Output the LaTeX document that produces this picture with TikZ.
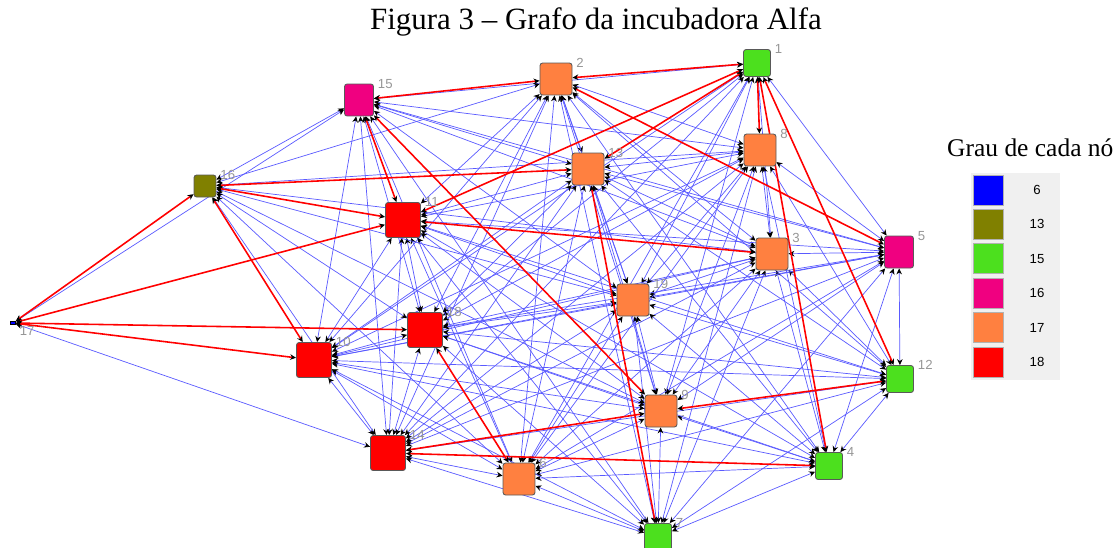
\documentclass[tikz,border=0pt]{standalone}
\usepackage{fontspec}
\setmainfont{Liberation Serif}
\setsansfont{Liberation Sans}
\usepackage{tikz}
\usetikzlibrary{arrows.meta,backgrounds}

\definecolor{gBlue}{RGB}{0,0,255}
\definecolor{gOlive}{RGB}{128,128,0}
\definecolor{gGreen}{RGB}{76,224,30}
\definecolor{gPink}{RGB}{240,0,128}
\definecolor{gOrange}{RGB}{255,128,64}
\definecolor{gRed}{RGB}{255,0,0}
\definecolor{edgeblue}{RGB}{90,90,255}
\definecolor{lblgray}{RGB}{150,150,150}
\definecolor{legendbg}{RGB}{240,240,240}

\begin{document}
\begin{tikzpicture}[x=0.02cm, y=-0.02cm, >={Stealth[length=3.4pt,width=3.2pt,black]},
  vertex/.style={draw=black!65, rounded corners=1.5pt, inner sep=0pt, line width=0.5pt},
  vsmall/.style={minimum size=0.54cm},
  vmid/.style={minimum size=0.64cm},
  vbig/.style={minimum size=0.70cm},
  numlbl/.style={anchor=west, xshift=1.5pt, inner sep=0.6pt, text=lblgray, font=\sffamily\fontsize{7.5}{8}\selectfont},
  lbl/.style={label={[numlbl]north east:#1}},
  blueedge/.style={<->, draw=edgeblue, line width=0.4pt},
  rededge/.style={<->, draw=gRed, line width=0.9pt},
  legsq/.style={draw=black!30, inner sep=0pt, minimum size=0.6cm},
  legtxt/.style={font=\sffamily\fontsize{7.5}{9}\selectfont}]

\useasboundingbox (0,0) rectangle (1117,548);

% title
\node[font=\fontsize{17.6}{20}\selectfont] (title) at (596,22) {Figura 3 – Grafo da incubadora Alfa};

% vertices
\node[vertex, vsmall, fill=gGreen, lbl=1] (n1) at (757,63) {};
\node[vertex, vmid, fill=gOrange, lbl=2] (n2) at (556,79) {};
\node[vertex, vmid, fill=gOrange, lbl=3] (n3) at (772,254) {};
\node[vertex, vsmall, fill=gGreen, lbl=4] (n4) at (829,466) {};
\node[vertex, vmid, minimum width=0.58cm, fill=gPink, lbl=5] (n5) at (899,252) {};
\node[vertex, vmid, fill=gOrange, lbl=6] (n6) at (519,479) {};
\node[vertex, vsmall, fill=gGreen, lbl=7] (n7) at (658,537) {};
\node[vertex, vmid, fill=gOrange, lbl=8] (n8) at (760,150) {};
\node[vertex, vmid, fill=gOrange, lbl=9] (n9) at (661,411) {};
\node[vertex, vbig, fill=gRed, lbl=10] (n10) at (314,360) {};
\node[vertex, vbig, fill=gRed, lbl=11] (n11) at (403,220) {};
\node[vertex, vsmall, fill=gGreen, lbl=12] (n12) at (900,379) {};
\node[vertex, vmid, fill=gOrange, lbl=13] (n13) at (588,169) {};
\node[vertex, vbig, fill=gRed, lbl=14] (n14) at (388,453) {};
\node[vertex, vmid, minimum width=0.58cm, fill=gPink, lbl=15] (n15) at (359,100) {};
\node[vertex, minimum size=0.44cm, fill=gOlive, lbl=16] (n16) at (205,186) {};
\node[draw=black, fill=gBlue, inner sep=0pt, minimum width=0.1cm, minimum height=0.07cm,
      label={[numlbl, anchor=north west, xshift=0pt]south east:17}] (n17) at (13,323) {};
\node[vertex, vbig, fill=gRed, lbl=18] (n18) at (425,330) {};
\node[vertex, vmid, fill=gOrange, lbl=19] (n19) at (633,300) {};

% connectors
\begin{scope}[on background layer]
\foreach \a/\b in {1/3,1/5,1/6,1/9,1/10,1/14,1/15,1/18,1/19,
  2/3,2/4,2/6,2/7,2/8,2/9,2/10,2/11,2/12,2/13,2/14,2/16,2/18,2/19,
  3/4,3/5,3/6,3/7,3/8,3/9,3/10,3/12,3/13,3/14,3/15,3/16,3/18,3/19,
  4/5,4/6,4/7,4/8,4/9,4/10,4/11,4/12,4/13,4/18,4/19,
  5/6,5/7,5/8,5/9,5/10,5/11,5/12,5/13,5/14,5/15,5/18,5/19,
  6/7,6/8,6/9,6/10,6/11,6/12,6/13,6/14,6/15,6/16,6/19,
  7/8,7/9,7/10,7/11,7/12,7/14,7/15,7/18,7/19,
  8/9,8/10,8/11,8/12,8/13,8/14,8/15,8/16,8/18,8/19,
  9/10,9/11,9/13,9/16,9/18,9/19,
  10/11,10/12,10/13,10/14,10/15,10/18,10/19,
  11/12,11/13,11/14,11/18,11/19,
  12/13,12/14,12/18,12/19,
  13/14,13/15,13/18,13/19,
  14/15,14/16,14/17,14/18,14/19,
  15/16,15/17,15/18,15/19,
  16/18,16/19,18/19}
  \draw[blueedge] (n\a) -- (n\b);
\foreach \a/\b in {16/17,11/17,17/18,10/17,10/16,11/16,13/16,2/15,11/15,9/15,
  1/11,3/11,1/13,1/2,2/5,1/8,1/4,1/12,7/13,9/12,4/14,9/14,6/18}
  \draw[rededge] (n\a) -- (n\b);
\end{scope}

% legend
\node[anchor=west, font=\fontsize{14.5}{17}\selectfont] (legtitle) at (941,148) {Grau de cada nó};
\node[fill=legendbg, inner sep=0pt, minimum width=1.78cm, minimum height=4.14cm] (legbox) at (1015.5,276.5) {};
\foreach \c/\v [count=\i from 0] in {gBlue/6,gOlive/13,gGreen/15,gPink/16,gOrange/17,gRed/18} {
  \node[legsq, fill=\c] (sq\v) at (988,190+\i*34.4) {};
  \node[legtxt] (txt\v) at (1037,190+\i*34.4) {\v};
}
\end{tikzpicture}
\end{document}
